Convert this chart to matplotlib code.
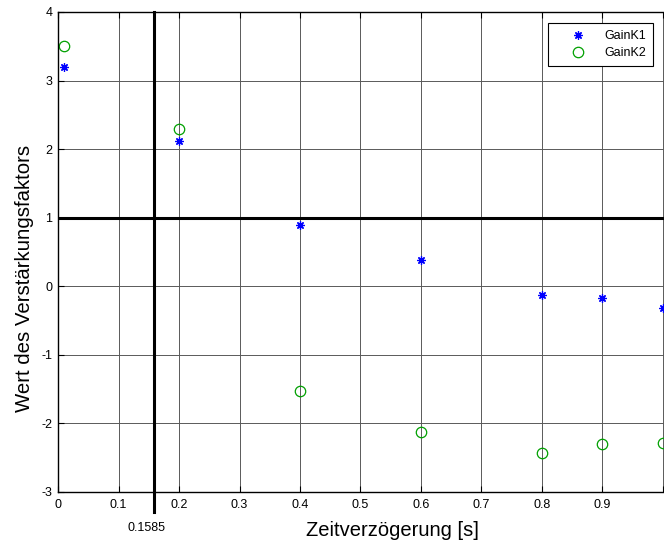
import numpy as np
import matplotlib
matplotlib.use("Agg")
import matplotlib.pyplot as plt

plt.rcParams['font.family'] = ['Liberation Sans', 'DejaVu Sans']
plt.rcParams['axes.unicode_minus'] = False

# Zeitverzögerung [s]
t = np.array([0.01, 0.2, 0.4, 0.6, 0.8, 0.9, 1.0])
# Verstärkungsfaktoren
gain_k1 = np.array([3.2, 2.12, 0.89, 0.39, -0.12, -0.17, -0.32])
gain_k2 = np.array([3.51, 2.29, -1.52, -2.13, -2.43, -2.30, -2.29])

t_marke = 0.1585
k_marke = 1.0

# Tick-Beschriftung, die "1" liegt im Original schon ausserhalb des Bildes
x_ticks = np.arange(0, 1.01, 0.1)
x_labels = ['0', '0.1', '0.2', '0.3', '0.4', '0.5', '0.6', '0.7', '0.8', '0.9', '']

W, H = 664, 540
fig = plt.figure(figsize=(W / 100, H / 100), dpi=100)
# Achse geht rechts über den Bildrand hinaus (xlim bis 1.1)
ax = fig.add_axes([58 / W, 48 / H, 665.5 / W, 480 / H])

ax.plot(t, gain_k1, linestyle='none', marker=(8, 2, 0), color='blue',
        markersize=6, markeredgewidth=0.9, label='GainK1')
ax.plot(t, gain_k2, 'o', color='#00a000', markerfacecolor='none', markersize=7.5,
        markeredgewidth=0.9, label='GainK2')

# Markierungslinien
ax.axhline(k_marke, color='black', lw=2.2)
ax.axvline(t_marke, ymin=-0.0417, ymax=1, color='black', lw=2.2, clip_on=False)
ax.text(t_marke - 0.013, -0.075, '0.1585', ha='center', va='center', fontsize=9,
        transform=ax.get_xaxis_transform())

ax.set_xlim(0, 1.1)
ax.set_ylim(-3, 4)
ax.set_xticks(x_ticks)
ax.set_xticklabels(x_labels)
ax.set_yticks(np.arange(-3, 5, 1))
ax.tick_params(direction='in', top=True, right=True, labelsize=9, length=4, width=0.8)
ax.tick_params(axis='x', pad=5)
ax.tick_params(axis='y', pad=4)
ax.grid(True, color='0.35', lw=0.7)
for s in ax.spines.values():
    s.set_linewidth(1.0)

fig.text(392 / W, 1 - 530 / H, 'Zeitverzögerung [s]', fontsize=14.5,
         ha='center', va='center')
fig.text(25 / W, 1 - 278 / H, 'Wert des Verstärkungsfaktors', fontsize=14.7,
         ha='center', va='center', rotation=90)

leg = ax.legend(loc='upper right', bbox_to_anchor=(653 / W, 1 - 23 / H),
                bbox_transform=fig.transFigure, fontsize=9, numpoints=1,
                fancybox=False, framealpha=1, edgecolor='black', borderpad=0.55,
                labelspacing=0.4, handletextpad=0.3, handlelength=3.7,
                borderaxespad=0)
leg.get_frame().set_linewidth(0.8)

plt.savefig('out.png', dpi=100)
